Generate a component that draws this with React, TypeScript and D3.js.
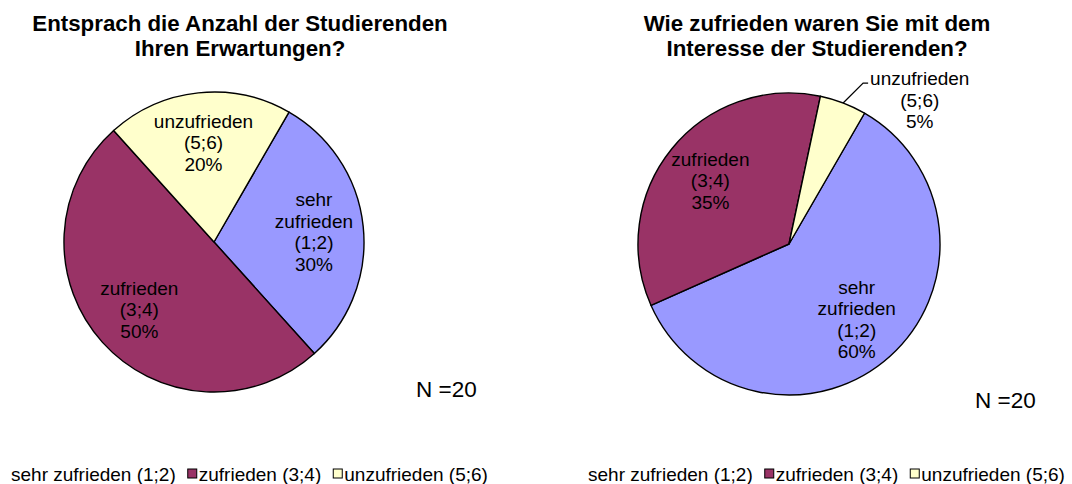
import * as d3 from "d3";

// categories (legend order) and shares per chart
const categories = ["sehr zufrieden (1;2)", "zufrieden (3;4)", "unzufrieden (5;6)"];
const sliceLabels = [
  ["sehr", "zufrieden", "(1;2)"],
  ["zufrieden", "(3;4)"],
  ["unzufrieden", "(5;6)"],
];
const colors = ["#9999FF", "#993366", "#FFFFCC"];

const values1 = [30, 50, 20];
const values2 = [60, 35, 5];

const title1 = ["Entsprach die Anzahl der Studierenden", "Ihren Erwartungen?"];
const title2 = ["Wie zufrieden waren Sie mit dem", "Interesse der Studierenden?"];
const nLabel = "N =20";

const W = 1072;
const H = 484;
const FONT = "'Liberation Sans', Arial, sans-serif";
const START = (30 * Math.PI) / 180;
const LABEL_SIZE = 19;
const LEGEND_SIZE = 19;

let ctx: CanvasRenderingContext2D | null = null;
function measure(text: string, size: number): number {
  if (!ctx) ctx = document.createElement("canvas").getContext("2d");
  if (!ctx) return text.length * size * 0.5;
  ctx.font = `${size}px ${FONT}`;
  return ctx.measureText(text).width;
}

type PieProps = {
  values: number[];
  cx: number;
  cy: number;
  r: number;
  title: string[];
  titleX: number;
  nX: number;
  nY: number;
  legendX: number;
};

function Pie({ values, cx, cy, r, title, titleX, nX, nY, legendX }: PieProps) {
  const pie = d3
    .pie<number>()
    .sort(null)
    .value((d) => d)
    .startAngle(START)
    .endAngle(START + 2 * Math.PI);
  const arcs = pie(values);
  const arc = d3.arc<d3.PieArcDatum<number>>().innerRadius(0).outerRadius(r);
  const labelArc = d3
    .arc<d3.PieArcDatum<number>>()
    .innerRadius(r * 0.67)
    .outerRadius(r * 0.67);
  const lh = 21.5;

  // legend layout
  const legendItems: { x: number; text: string; i: number }[] = [];
  let lx = legendX;
  categories.forEach((c, i) => {
    if (i > 0) lx += 11;
    legendItems.push({ x: lx, text: c, i });
    lx += measure(c, LEGEND_SIZE) + 12;
  });

  return (
    <g>
      <text
        x={titleX}
        y={31}
        textAnchor="middle"
        fontFamily={FONT}
        fontWeight="bold"
        fontSize={22.3}
        fill="#000"
      >
        {title.map((t, i) => (
          <tspan key={i} x={titleX} dy={i === 0 ? 0 : 25}>
            {t}
          </tspan>
        ))}
      </text>
      <g transform={`translate(${cx},${cy})`}>
        {arcs.map((a, i) => (
          <path
            key={i}
            d={arc(a) ?? ""}
            fill={colors[i]}
            stroke="#000"
            strokeWidth={1.4}
            strokeLinejoin="round"
          />
        ))}
        {arcs.map((a, i) => {
          const pct = `${a.data}%`;
          const lines = [...sliceLabels[i], pct];
          const small = a.data < 10;
          if (small) {
            // outside label with leader line
            const mid = (a.startAngle + a.endAngle) / 2;
            const p0 = [Math.sin(mid) * r, -Math.cos(mid) * r];
            const p1 = [p0[0] + 20, p0[1] - 20];
            const p2 = [p1[0] + 5, p1[1]];
            const tx = p2[0] + 2 + measure(lines[0], LABEL_SIZE) / 2;
            return (
              <g key={i}>
                <polyline
                  points={[p0, p1, p2].map((p) => p.join(",")).join(" ")}
                  fill="none"
                  stroke="#000"
                  strokeWidth={1.2}
                />
                <text
                  textAnchor="middle"
                  fontFamily={FONT}
                  fontSize={LABEL_SIZE}
                  fill="#000"
                >
                  {lines.map((t, j) => (
                    <tspan key={j} x={tx} y={p2[1] + 2 + j * lh}>
                      {t}
                    </tspan>
                  ))}
                </text>
              </g>
            );
          }
          const [x, y] = labelArc.centroid(a);
          const y0 = y - ((lines.length - 1) * lh) / 2 + 7;
          return (
            <text
              key={i}
              textAnchor="middle"
              fontFamily={FONT}
              fontSize={LABEL_SIZE}
              fill="#000"
            >
              {lines.map((t, j) => (
                <tspan key={j} x={x} y={y0 + j * lh}>
                  {t}
                </tspan>
              ))}
            </text>
          );
        })}
      </g>
      <text x={nX} y={nY} fontFamily={FONT} fontSize={22.5} fill="#000">
        {nLabel}
      </text>
      <g>
        {legendItems.map((d) => (
          <g key={d.i}>
            {d.i > 0 && (
              <rect
                x={d.x - 11}
                y={469}
                width={9}
                height={9}
                fill={colors[d.i]}
                stroke="#000"
                strokeWidth={1}
              />
            )}
            <text
              x={d.x}
              y={481}
              fontFamily={FONT}
              fontSize={LEGEND_SIZE}
              fill="#000"
            >
              {d.text}
            </text>
          </g>
        ))}
      </g>
    </g>
  );
}

export default function App() {
  return (
    <svg
      width={W}
      height={H}
      style={{ position: "absolute", left: 0, top: 0, background: "#fff" }}
    >
      <rect width={W} height={H} fill="#fff" />
      <Pie
        values={values1}
        cx={214}
        cy={242}
        r={150}
        title={title1}
        titleX={240}
        nX={416}
        nY={397}
        legendX={11}
      />
      <Pie
        values={values2}
        cx={789}
        cy={244}
        r={151}
        title={title2}
        titleX={817}
        nX={975}
        nY={408}
        legendX={588}
      />
    </svg>
  );
}
